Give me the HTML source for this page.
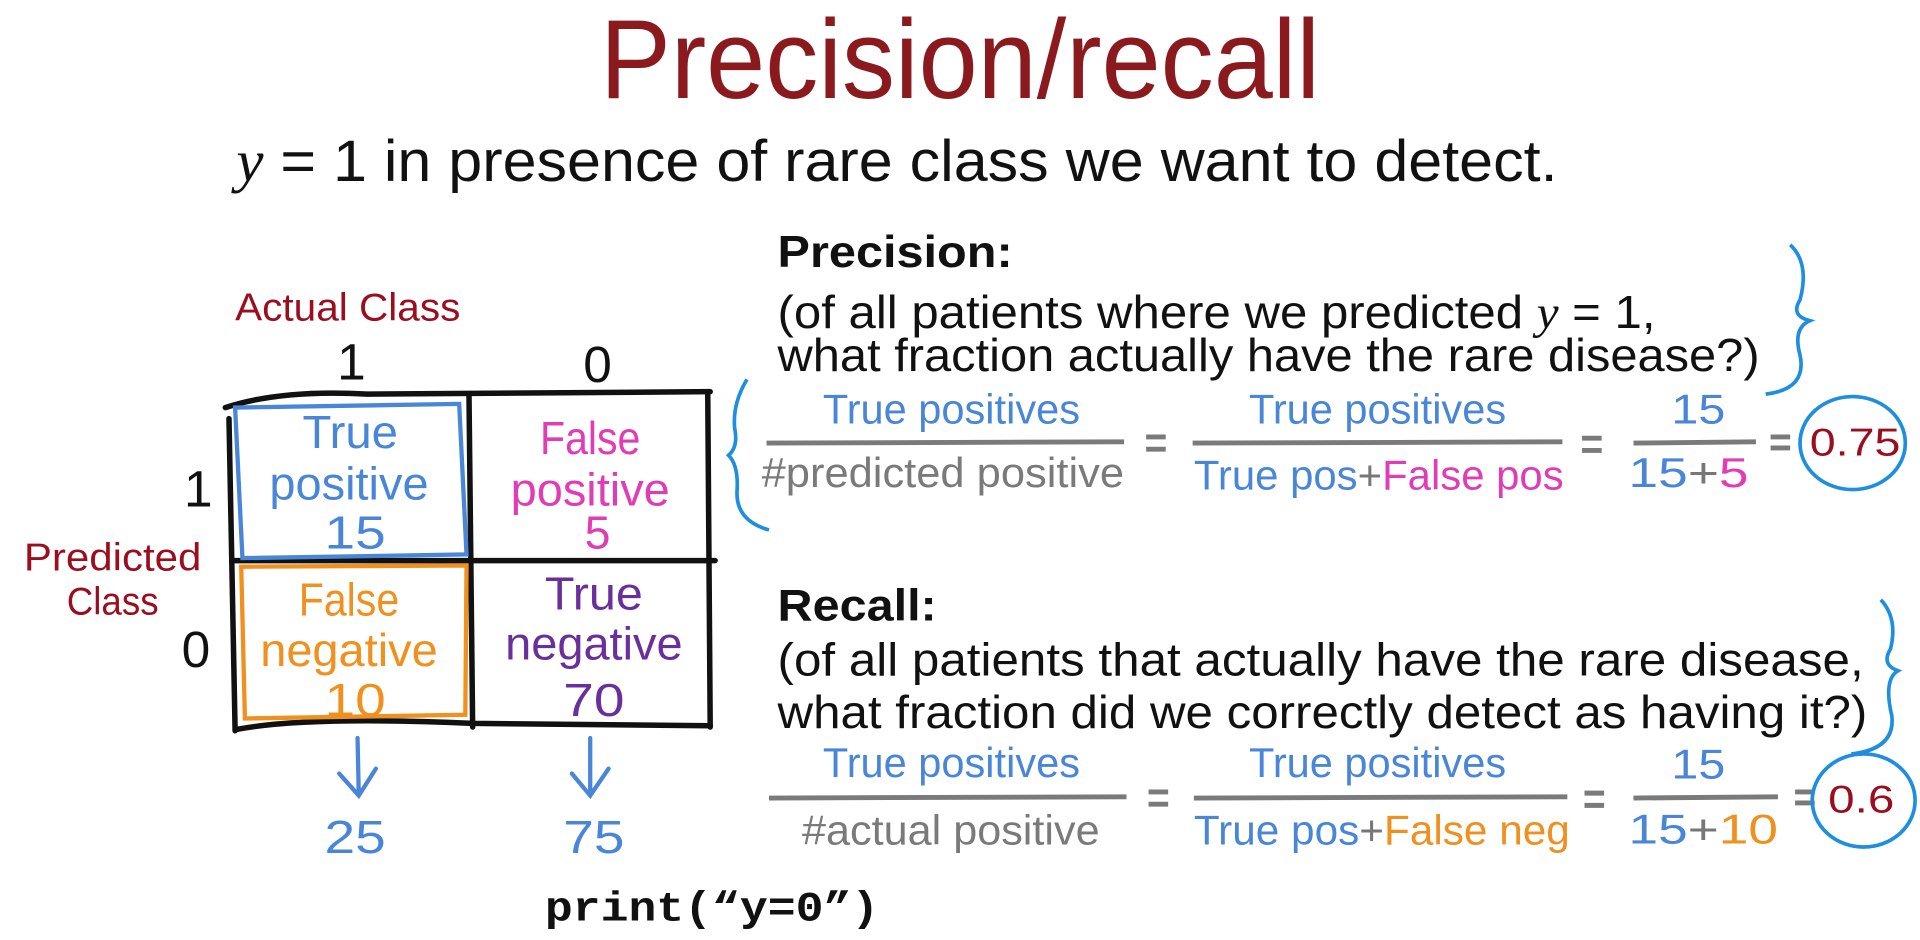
<!DOCTYPE html>
<html><head><meta charset="utf-8"><style>
html,body{margin:0;padding:0;background:#fff;width:1920px;height:940px;overflow:hidden}
svg{display:block}
.h{font-family:"Liberation Sans",sans-serif}
.b{fill:#4a86d8}.p{fill:#e03cb4}.o{fill:#f0901e}.v{fill:#6a2f9a}.g{fill:#7a7a7a}.r{fill:#9a0e1e}
</style></head><body>
<svg width="1920" height="940" viewBox="0 0 1568 768" preserveAspectRatio="none" xmlns="http://www.w3.org/2000/svg">
<rect width="1568" height="768" fill="#fff"/>
<g class="h">
<text x="784" y="80" text-anchor="middle" font-size="92" fill="#8b1a1f" textLength="588" lengthAdjust="spacingAndGlyphs">Precision/recall</text>
<text x="193" y="148" font-size="48" fill="#111" textLength="1079" lengthAdjust="spacingAndGlyphs"><tspan font-family="Liberation Serif" font-style="italic">y</tspan> = 1 in presence of rare class we want to detect.</text>

<text x="635" y="218" font-size="36" font-weight="bold" fill="#111" textLength="192" lengthAdjust="spacingAndGlyphs">Precision:</text>
<text x="635" y="268" font-size="38" fill="#111" textLength="717" lengthAdjust="spacingAndGlyphs">(of all patients where we predicted <tspan font-family="Liberation Serif" font-style="italic">y</tspan> = 1,</text>
<text x="635" y="303" font-size="38" fill="#111" textLength="802" lengthAdjust="spacingAndGlyphs">what fraction actually have the rare disease?)</text>

<text x="635" y="507" font-size="36" font-weight="bold" fill="#111" textLength="130" lengthAdjust="spacingAndGlyphs">Recall:</text>
<text x="635" y="552" font-size="38" fill="#111" textLength="887" lengthAdjust="spacingAndGlyphs">(of all patients that actually have the rare disease,</text>
<text x="635" y="595" font-size="38" fill="#111" textLength="890" lengthAdjust="spacingAndGlyphs">what fraction did we correctly detect as having it?)</text>

<text x="284" y="262" text-anchor="middle" font-size="32" class="r" textLength="184" lengthAdjust="spacingAndGlyphs">Actual Class</text>
<text x="287" y="310" text-anchor="middle" font-size="42" fill="#111">1</text>
<text x="488" y="312" text-anchor="middle" font-size="42" fill="#111">0</text>
<text x="162" y="414" text-anchor="middle" font-size="42" fill="#111">1</text>
<text x="160" y="545" text-anchor="middle" font-size="42" fill="#111">0</text>
<text x="92" y="466" text-anchor="middle" font-size="32" class="r" textLength="145" lengthAdjust="spacingAndGlyphs">Predicted</text>
<text x="92" y="502" text-anchor="middle" font-size="32" class="r" textLength="75" lengthAdjust="spacingAndGlyphs">Class</text>

<g font-size="38" text-anchor="middle">
<text x="286" y="366" class="b" textLength="78" lengthAdjust="spacingAndGlyphs">True</text>
<text x="285" y="408" class="b" textLength="130" lengthAdjust="spacingAndGlyphs">positive</text>
<text x="290" y="448" class="b" textLength="50" lengthAdjust="spacingAndGlyphs">15</text>
<text x="482" y="371" class="p" textLength="82" lengthAdjust="spacingAndGlyphs">False</text>
<text x="482" y="413" class="p" textLength="130" lengthAdjust="spacingAndGlyphs">positive</text>
<text x="488" y="448" class="p">5</text>
<text x="285" y="503" class="o" textLength="82" lengthAdjust="spacingAndGlyphs">False</text>
<text x="285" y="544" class="o" textLength="145" lengthAdjust="spacingAndGlyphs">negative</text>
<text x="290" y="585" class="o" textLength="50" lengthAdjust="spacingAndGlyphs">10</text>
<text x="485" y="498" class="v" textLength="80" lengthAdjust="spacingAndGlyphs">True</text>
<text x="485" y="539" class="v" textLength="145" lengthAdjust="spacingAndGlyphs">negative</text>
<text x="485" y="585" class="v" textLength="50" lengthAdjust="spacingAndGlyphs">70</text>
<text x="290" y="697" class="b" textLength="50" lengthAdjust="spacingAndGlyphs">25</text>
<text x="485" y="697" class="b" textLength="50" lengthAdjust="spacingAndGlyphs">75</text>
</g>
</g>
<g fill="none" stroke="#111" stroke-width="4.5" stroke-linecap="round">
<path d="M184,333 Q230,318 300,322 L580,320"/>
<path d="M187,342 L192,597"/>
<path d="M383,322 L386,594"/>
<path d="M578,322 L580,594"/>
<path d="M190,458 L584,458"/>
<path d="M193,596 Q250,585 386,591 L580,593"/>
</g>
<path d="M192,333 L375,330 L381,453 L198,456 Z" fill="none" stroke="#4a86d8" stroke-width="3.5"/>
<path d="M197,463 L381,462 L380,584 L200,587 Z" fill="none" stroke="#f0901e" stroke-width="3.5"/>
<g fill="none" stroke="#4a86d8" stroke-width="3.5" stroke-linecap="round">
<path d="M292,603 L293,650 M277,632 L293,650 L307,628"/>
<path d="M482,603 L482,650 M467,632 L482,650 L497,628"/>
</g>
<text x="445" y="752" font-family="Liberation Mono,monospace" font-weight="bold" font-size="34" fill="#111" textLength="273" lengthAdjust="spacingAndGlyphs">print(“y=0”)</text>

<g class="h" font-size="34">
<text x="672" y="346" class="b" textLength="210" lengthAdjust="spacingAndGlyphs">True positives</text>
<text x="622" y="398" class="g" textLength="296" lengthAdjust="spacingAndGlyphs">#predicted positive</text>
<text x="1020" y="346" class="b" textLength="210" lengthAdjust="spacingAndGlyphs">True positives</text>
<text x="975" y="400" textLength="302" lengthAdjust="spacingAndGlyphs"><tspan class="b">True pos</tspan><tspan fill="#777">+</tspan><tspan class="p">False pos</tspan></text>
<text x="1365" y="346" class="b" textLength="44" lengthAdjust="spacingAndGlyphs">15</text>
<text x="1330" y="398" textLength="98" lengthAdjust="spacingAndGlyphs"><tspan class="b">15</tspan><tspan fill="#777">+</tspan><tspan class="p">5</tspan></text>
<text x="1478" y="372" font-size="32" class="r" textLength="74" lengthAdjust="spacingAndGlyphs">0.75</text>

<text x="672" y="635" class="b" textLength="210" lengthAdjust="spacingAndGlyphs">True positives</text>
<text x="655" y="690" class="g" textLength="243" lengthAdjust="spacingAndGlyphs">#actual positive</text>
<text x="1020" y="635" class="b" textLength="210" lengthAdjust="spacingAndGlyphs">True positives</text>
<text x="975" y="690" textLength="307" lengthAdjust="spacingAndGlyphs"><tspan class="b">True pos</tspan><tspan fill="#777">+</tspan><tspan class="o">False neg</tspan></text>
<text x="1365" y="636" class="b" textLength="44" lengthAdjust="spacingAndGlyphs">15</text>
<text x="1330" y="689" textLength="122" lengthAdjust="spacingAndGlyphs"><tspan class="b">15</tspan><tspan fill="#777">+</tspan><tspan class="o">10</tspan></text>
<text x="1493" y="664" font-size="32" class="r" textLength="54" lengthAdjust="spacingAndGlyphs">0.6</text>
</g>
<g stroke="#7a7a7a" stroke-width="4" fill="none">
<path d="M626,362 L918,361 M974,362 L1276,361 M1334,362 L1434,361"/>
<path d="M628,652 L920,651 M975,652 L1280,651 M1334,652 L1452,651"/>
<path d="M936,357 L952,357 M936,367 L952,367 M1292,358 L1308,358 M1292,368 L1308,368 M1446,357 L1462,357 M1446,366 L1462,366"/>
<path d="M938,647 L954,647 M938,657 L954,657 M1294,648 L1310,648 M1294,658 L1310,658 M1466,647 L1482,647 M1466,656 L1482,656"/>
</g>
<g fill="none" stroke="#1e8ee0" stroke-width="3">
<ellipse cx="1513" cy="362" rx="43" ry="38"/>
<ellipse cx="1522" cy="654" rx="42" ry="38"/>
<path d="M1462,200 Q1478,215 1470,245 Q1462,258 1478,262 Q1464,268 1470,290 Q1476,318 1442,322"/>
<path d="M610,310 Q598,330 600,350 Q603,365 595,372 Q603,380 602,400 Q600,425 628,433"/>
<path d="M1536,490 Q1550,505 1544,530 Q1536,543 1550,548 Q1538,555 1545,585 Q1548,612 1512,616"/>
</g>
</svg>
</body></html>
